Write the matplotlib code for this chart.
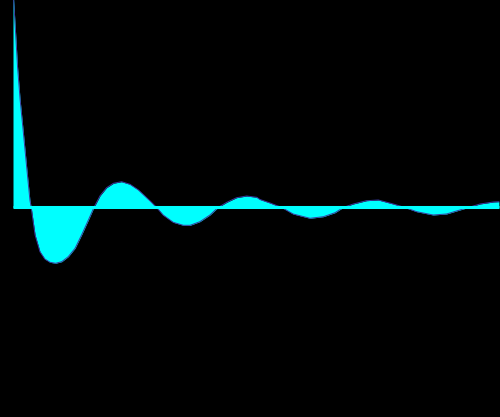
import numpy as np
import matplotlib.pyplot as plt

# значения
t = [0, 0.02, 0.08, 0.14, 0.22, 0.32, 0.42, 0.52, 0.56, 0.68, 0.83, 0.98,
     1.14, 1.31, 1.50, 1.70, 1.91, 2.11, 2.32, 2.49, 2.68, 2.88, 3.09, 3.34,
     3.60, 3.86, 4.11, 4.22, 4.42, 4.62, 4.93, 5.24, 5.45, 5.75, 6.06, 6.31,
     6.58, 6.88, 7.19, 7.50, 7.60, 7.91, 8.27, 8.62, 9.14, 9.55, 9.91, 10.16,
     10.47, 10.88, 11.24, 11.70, 12.06, 12.42, 12.93, 13.34, 13.75, 14.01,
     14.37, 14.78, 14.95]
v = [2.225, 2.075, 1.745, 1.405, 1.075, 0.745, 0.405, 0.075, 0.0, -0.275,
     -0.442, -0.515, -0.548, -0.558, -0.542, -0.492, -0.408, -0.275, -0.125,
     0.0, 0.118, 0.198, 0.242, 0.258, 0.232, 0.175, 0.098, 0.065, 0.0, -0.075,
     -0.148, -0.178, -0.178, -0.142, -0.075, 0.0, 0.052, 0.098, 0.115, 0.102,
     0.08, 0.045, 0.0, -0.065, -0.108, -0.092, -0.052, 0.0, 0.035, 0.068,
     0.075, 0.035, 0.0, -0.042, -0.075, -0.065, -0.025, 0.0, 0.035, 0.055,
     0.058]

t = np.array(t)
v = np.array(v)

fig = plt.figure(figsize=(5, 4.17), dpi=100, facecolor='black')
ax = fig.add_axes([0, 0, 1, 1])
ax.set_facecolor('black')

ax.fill_between(t, v, 0, color='cyan', linewidth=0)
ax.plot(t, v, color='#3a3aa0', lw=0.7)
ax.hlines(0, t[0], t[-1], color='cyan', lw=2.2)

ax.set_xlim(-0.4, 14.985)
ax.set_ylim(-2.095, 2.075)
ax.axis('off')

fig.savefig('out.png', dpi=100, facecolor='black')
